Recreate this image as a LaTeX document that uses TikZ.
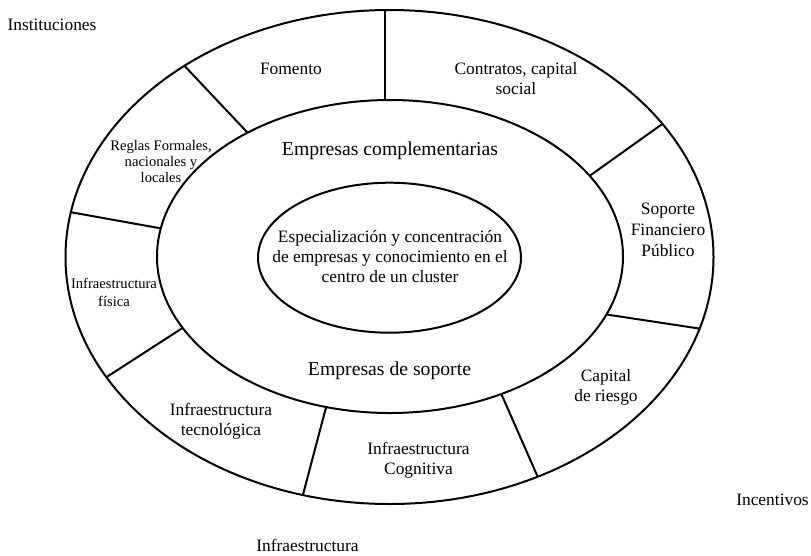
\documentclass[tikz,border=0pt]{standalone}
\usepackage{fontspec}
\setmainfont{Liberation Serif}
\usetikzlibrary{shapes.geometric}
\begin{document}
\begin{tikzpicture}[x=1pt,y=-1pt,
  ring/.style={ellipse, draw, line width=2pt, inner sep=0pt, outer sep=0pt},
  divider/.style={line width=2pt},
  bigtxt/.style={font=\fontsize{19.7}{22}\selectfont, inner sep=0pt},
  txt/.style={font=\fontsize{17.4}{20}\selectfont, align=center, inner sep=0pt},
  smalltxt/.style={font=\fontsize{14.6}{16}\selectfont, align=center, inner sep=0pt}]
\useasboundingbox (0,0) rectangle (811,555);
% rings
\node[ring, minimum width=648pt, minimum height=494pt] (o) at (389.5,257) {};
\node[ring, minimum width=466pt, minimum height=313pt] (m) at (390,256.5) {};
\node[ring, minimum width=263pt, minimum height=150pt] (i) at (389.5,257.7) {};
% dividers
\coordinate (t1) at (o.91);
\draw[divider] (t1) -- (t1 |- m.north);
\draw[divider] (o.137.5) -- (m.139.8);
\draw[divider] (o.172.3) -- (m.173.3);
\draw[divider] (o.203.9) -- (m.199.3);
\draw[divider] (o.250.1) -- (m.247.5);
\draw[divider] (o.304.1) -- (m.309.9);
\draw[divider] (o.347.7) -- (m.345.7);
\draw[divider] (o.26.5) -- (m.22.6);
% texts
\node[txt, anchor=base] (inst) at (52,30.5) {Instituciones};
\node[txt, anchor=base] (fom) at (291,74) {Fomento};
\node[txt] (contr) at (516,79) {Contratos, capital\\social};
\node[bigtxt, anchor=base] (ecomp) at (390,155) {Empresas complementarias};
\node[smalltxt] (reglas) at (161,161.7) {Reglas Formales,\\nacionales y\\locales};
\node[txt, font=\fontsize{17.4}{20.8}\selectfont] (sop) at (668,229.8) {Soporte\\Financiero\\Público};
\node[txt] (centro) at (390,257) {Especialización y concentración\\de empresas y conocimiento en el\\centro de un cluster};
\node[smalltxt, font=\fontsize{14.6}{18.4}\selectfont] (fis) at (114,292.5) {Infraestructura\\física};
\node[bigtxt, anchor=base] (esop) at (389.5,375) {Empresas de soporte};
\node[txt] (tec) at (221,420.9) {Infraestructura\\tecnológica};
\node[txt] (cog) at (418.5,459.9) {Infraestructura\\Cognitiva};
\node[txt] (cap) at (606,387.6) {Capital\\de riesgo};
\node[txt, anchor=base] (inc) at (772.5,505.7) {Incentivos};
\node[txt, anchor=base] (infra) at (307.5,551.7) {Infraestructura};
\end{tikzpicture}
\end{document}
